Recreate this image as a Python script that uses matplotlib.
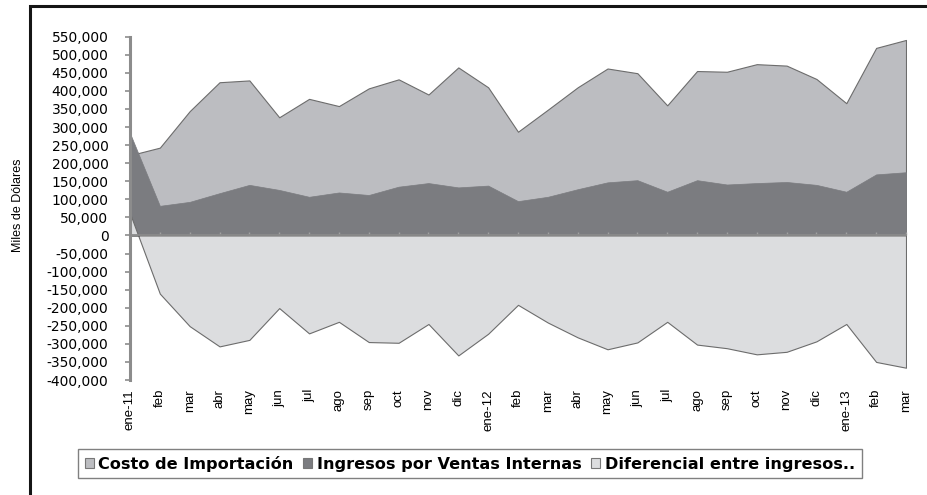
import matplotlib
matplotlib.use("Agg")
import matplotlib.pyplot as plt
from matplotlib.patches import Patch, Rectangle
from matplotlib.font_manager import FontProperties
import numpy as np

# ---- data ----
meses = ['ene-11', 'feb', 'mar', 'abr', 'may', 'jun', 'jul', 'ago', 'sep', 'oct', 'nov', 'dic',
         'ene-12', 'feb', 'mar', 'abr', 'may', 'jun', 'jul', 'ago', 'sep', 'oct', 'nov', 'dic',
         'ene-13', 'feb', 'mar']

costo_importacion = [222000, 243000, 344000, 424000, 429000, 327000, 378000, 358000, 407000,
                     432000, 390000, 465000, 410000, 287000, 348000, 410000, 462000, 449000,
                     360000, 455000, 453000, 474000, 470000, 433000, 366000, 519000, 541000]

ingresos_ventas = [283000, 82000, 93000, 117000, 140000, 126000, 107000, 119000, 112000,
                   135000, 145000, 133000, 138000, 95000, 107000, 128000, 147000, 153000,
                   121000, 153000, 141000, 145000, 148000, 140000, 121000, 169000, 175000]

diferencial = [61000, -161000, -251000, -307000, -289000, -201000, -271000, -239000, -295000,
               -297000, -245000, -332000, -272000, -192000, -241000, -282000, -315000, -296000,
               -239000, -302000, -312000, -329000, -322000, -293000, -245000, -350000, -366000]

series_names = ['Costo de Importación', 'Ingresos por Ventas Internas', 'Diferencial entre ingresos..']
y_ticks = list(range(-400000, 550001, 50000))
y_tick_labels = [f'{v:,}' for v in y_ticks]
y_label = 'Miles de Dólares'

# ---- style ----
c_costo = '#bcbdc1'
c_ing = '#7b7c80'
c_dif = '#dcdddf'
c_edge = '#6c6c6c'

W, H = 928, 495
fig = plt.figure(figsize=(W / 100, H / 100), dpi=100)
fig.patch.set_facecolor('white')

x0, x1 = 130, 906
ytop, ybot = 36.7, 380
ax = fig.add_axes([x0 / W, 1 - ybot / H, (x1 - x0) / W, (ybot - ytop) / H])
ax.set_facecolor('none')

x = np.arange(len(meses))
ax.fill_between(x, 0, costo_importacion, facecolor=c_costo, edgecolor=c_edge, linewidth=0.8, zorder=1)
ax.fill_between(x, 0, ingresos_ventas, facecolor=c_ing, edgecolor=c_ing, linewidth=0.5, zorder=1.1)
ax.fill_between(x, 0, diferencial, facecolor=c_dif, edgecolor=c_edge, linewidth=0.8, zorder=1.2)

ax.set_xlim(0, len(meses) - 1)
ax.set_ylim(-400000, 550000)

# spines
ax.spines['right'].set_visible(False)
ax.spines['bottom'].set_visible(False)
ax.spines['left'].set_color('#8c8c8c')
ax.spines['left'].set_linewidth(2.2)
ax.spines['top'].set_position(('data', 0))
ax.spines['top'].set_color('#8a8a8a')
ax.spines['top'].set_linewidth(1.3)

# y ticks
ax.set_yticks(y_ticks)
ax.set_yticklabels(y_tick_labels, fontfamily='DejaVu Sans', fontsize=10, color='black')
ax.tick_params(axis='y', direction='out', length=3.5, width=1.2, color='#8c8c8c', pad=12)

# x ticks: marks on the zero line, labels at bottom
ax.set_xticks(x)
ax.set_xticklabels(meses, rotation=90, fontfamily='Liberation Sans', fontsize=9.5, color='black',
                   ha='center', va='top')
ax.tick_params(axis='x', top=True, bottom=False, labeltop=False, labelbottom=True,
               direction='out', length=2.5, width=1.0, color='#a0a0a0', pad=4)

fig.text(18 / W, 1 - 205 / H, y_label, rotation=90, ha='center', va='center',
         fontfamily='Liberation Sans', fontsize=9)

# legend
handles = [Patch(facecolor=c, edgecolor='#777777', linewidth=0.8, label=n)
           for c, n in zip([c_costo, c_ing, c_dif], series_names)]
leg = fig.legend(handles=handles, loc='center', bbox_to_anchor=(470 / W, 1 - 463.5 / H), ncol=3,
                 frameon=True, fancybox=False, framealpha=1, edgecolor='#808080',
                 prop=FontProperties(family='DejaVu Sans', weight='bold', size=11.6),
                 handlelength=0.55, handleheight=0.55, handletextpad=0.3, columnspacing=0.6,
                 borderpad=0.4, borderaxespad=0)
leg.get_frame().set_linewidth(1.0)

# outer frame
fig.patches.append(Rectangle((30 / W, -0.1), 1.0, (H - 6) / H + 0.1, transform=fig.transFigure,
                             fill=False, edgecolor='#151515', linewidth=2.2))

fig.savefig('out.png', dpi=100)
